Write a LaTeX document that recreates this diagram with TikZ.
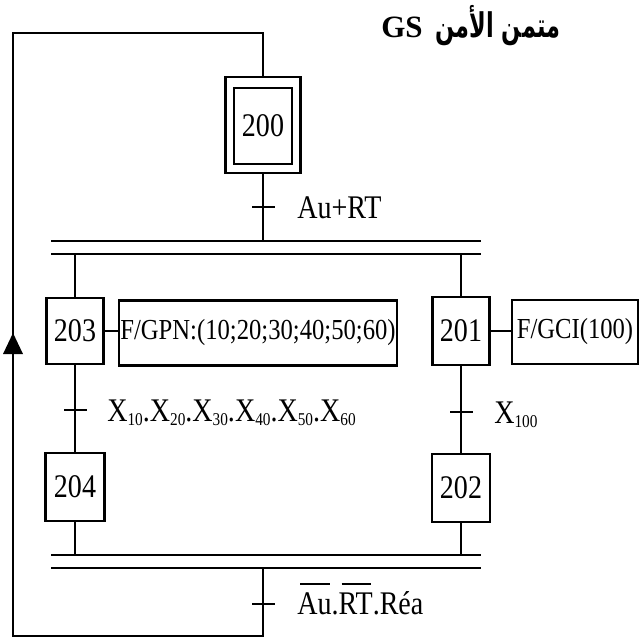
\documentclass[tikz,border=0pt]{standalone}
\usepackage{fontspec}
\setmainfont[FakeStretch=0.85]{Liberation Serif}
\newfontfamily\titlelat{Liberation Serif}
\newfontfamily\arabicfont[Script=Arabic,FakeStretch=0.66]{DejaVu Sans}
\TeXXeTstate=1
\newcommand\gsub[1]{\raisebox{-4pt}{\fontsize{18}{18}\selectfont #1}}
\newcommand\obar[1]{{\setbox0\hbox{#1}\rlap{\hspace{3pt}\raisebox{29pt}{\rule{\dimexpr\wd0-5pt\relax}{2.4pt}}}\box0}}
\begin{document}
\begin{tikzpicture}[x=1pt,y=-1pt,line width=2.6pt,
  stepbox/.style={draw,rectangle,inner sep=0pt,font=\fontsize{33}{33}\selectfont},
  actbox/.style={draw,rectangle,inner sep=0pt,font=\fontsize{29}{29}\selectfont},
  lbl/.style={anchor=base west,inner sep=0pt,font=\fontsize{33}{33}\selectfont},
  tick/.style={line width=2.6pt}]
\useasboundingbox (0,0) rectangle (641,641);
% title
\node[anchor=base west,inner sep=0pt] (title) at (380,37)
  {{\titlelat\bfseries\fontsize{31}{31}\selectfont GS}\hspace{13pt}{\arabicfont\bfseries\fontsize{34}{34}\selectfont\beginR متمن الأمن\endR}};
% steps
\node[stepbox,minimum width=75pt,minimum height=96pt] (s200o) at (263,125) {};
\node[stepbox,minimum width=58pt,minimum height=76pt] (s200) at (263,126) {200};
\node[stepbox,minimum width=57pt,minimum height=66pt] (s203) at (75,331) {203};
\node[actbox,minimum width=278pt,minimum height=65pt] (a203) at (258,333) {F/GPN:(10;20;30;40;50;60)};
\node[stepbox,minimum width=57pt,minimum height=68pt] (s201) at (461,331) {201};
\node[actbox,minimum width=126pt,minimum height=64pt] (a201) at (575,332) {F/GCI(100)};
\node[stepbox,minimum width=59pt,minimum height=68pt] (s204) at (75,487) {204};
\node[stepbox,minimum width=58pt,minimum height=68pt] (s202) at (461,488) {202};
% bars
\coordinate (tb1l) at (51,241); \coordinate (tb1r) at (481,241);
\coordinate (tb2l) at (51,254); \coordinate (tb2r) at (481,254);
\coordinate (bb1l) at (51,555); \coordinate (bb1r) at (481,555);
\coordinate (bb2l) at (51,568); \coordinate (bb2r) at (481,568);
\draw (tb1l) -- (tb1r); \draw (tb2l) -- (tb2r);
\draw (bb1l) -- (bb1r); \draw (bb2l) -- (bb2r);
% links
\draw (s200o.south) -- (s200o.south |- tb1l);
\draw (s203.north) -- (s203.north |- tb2l);
\draw (s201.north) -- (s201.north |- tb2l);
\draw (s203.south) -- (s204.north);
\draw (s201.south) -- (s202.north);
\draw (s204.south) -- (s204.south |- bb1l);
\draw (s202.south) -- (s202.south |- bb1l);
\draw (s203.east) -- (a203.west |- s203.east);
\draw (s201.east) -- (a201.west |- s201.east);
% loop
\coordinate (lb) at (263,636);
\coordinate (ll) at (13,636);
\coordinate (lt) at (13,33);
\coordinate (rt) at (263,33);
\draw (lb |- bb2l) -- (lb) -- (ll) -- (lt) -- (rt) -- (s200o.north);
\fill (13,333) -- (23,354) -- (3,354) -- cycle;
% transitions
\draw[tick] (252,207) -- (275,207);
\draw[tick] (64,410) -- (87,410);
\draw[tick] (450,412) -- (473,412);
\draw[tick] (252,604) -- (275,604);
% labels
\node[lbl] (t1) at (296,218) {Au+RT};
\node[lbl] (t2) at (106,421) {X\gsub{10}.X\gsub{20}.X\gsub{30}.X\gsub{40}.X\gsub{50}.X\gsub{60}};
\node[lbl] (t3) at (493,423) {X\gsub{100}};
\node[lbl] (t4) at (296,614) {\obar{Au}.\obar{RT}.Réa};
\end{tikzpicture}
\end{document}
